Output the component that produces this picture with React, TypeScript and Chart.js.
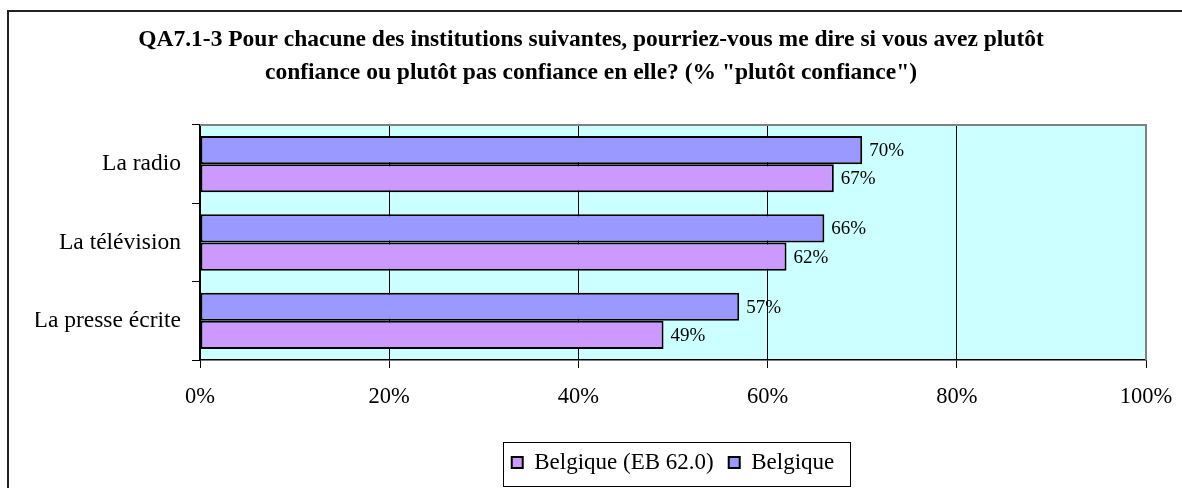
import React, { useEffect, useRef } from 'react';
import { Chart, registerables } from 'chart.js';

Chart.register(...registerables);

const categories = ['La radio', 'La télévision', 'La presse écrite'];
const seriesNames = ['Belgique', 'Belgique (EB 62.0)'];
const valuesBelgique = [70, 66, 57];
const valuesEB62 = [67, 62, 49];
const xTickValues = [0, 20, 40, 60, 80, 100];
const titleLines = [
  'QA7.1-3 Pour chacune des institutions suivantes, pourriez-vous me dire si vous avez plutôt',
  'confiance ou plutôt pas confiance en elle? (% "plutôt confiance")',
];

const FONT = "'Liberation Serif', 'Times New Roman', Times, serif";
const PLOT_BG = '#CCFFFF';
const BLUE = '#9999FF';
const PINK = '#CC99FF';

const decorPlugin = {
  id: 'decor',
  beforeDraw(chart: any) {
    const { ctx, chartArea } = chart;
    ctx.save();
    ctx.fillStyle = '#ffffff';
    ctx.fillRect(0, 0, chart.width, chart.height);
    // outer frame (right/bottom edges are cropped in the reference)
    ctx.strokeStyle = '#222';
    ctx.lineWidth = 2;
    ctx.strokeRect(8, 11, 1300, 600);
    // plot background
    ctx.fillStyle = PLOT_BG;
    ctx.fillRect(chartArea.left, chartArea.top, chartArea.right - chartArea.left, chartArea.bottom - chartArea.top);
    ctx.restore();
  },
  afterDatasetsDraw(chart: any) {
    const { ctx, chartArea } = chart;
    ctx.save();
    // grey plot frame top / right
    ctx.strokeStyle = '#808080';
    ctx.lineWidth = 2;
    ctx.beginPath();
    ctx.moveTo(chartArea.left, chartArea.top);
    ctx.lineTo(chartArea.right, chartArea.top);
    ctx.lineTo(chartArea.right, chartArea.bottom);
    ctx.stroke();
    // value labels
    ctx.fillStyle = '#000';
    ctx.font = `19px ${FONT}`;
    ctx.textAlign = 'left';
    ctx.textBaseline = 'middle';
    chart.data.datasets.forEach((ds: any, di: number) => {
      const meta = chart.getDatasetMeta(di);
      meta.data.forEach((el: any, i: number) => {
        ctx.fillText(`${ds.data[i]}%`, el.x + 7, el.y + 1);
      });
    });
    ctx.restore();
  },
  afterDraw(chart: any) {
    const legend = chart.legend;
    if (!legend || !legend.legendHitBoxes || !legend.legendHitBoxes.length) return;
    const boxes = legend.legendHitBoxes;
    const first = boxes[0];
    const last = boxes[boxes.length - 1];
    const left = first.left - 9;
    const right = last.left + last.width + 15;
    const cy = first.top + first.height / 2;
    const ctx = chart.ctx;
    ctx.save();
    ctx.strokeStyle = '#000';
    ctx.lineWidth = 1;
    ctx.strokeRect(Math.round(left) + 0.5, Math.round(cy - 21) + 0.5, Math.round(right - left), 44);
    ctx.restore();
  },
};

export default function App() {
  const ref = useRef<HTMLCanvasElement>(null);

  useEffect(() => {
    const canvas = ref.current;
    if (!canvas) return;
    const chart = new Chart(canvas, {
      type: 'bar',
      data: {
        labels: categories,
        datasets: [
          {
            label: seriesNames[0],
            data: valuesBelgique,
            backgroundColor: BLUE,
            borderColor: '#000',
            borderWidth: 2,
            borderSkipped: false,
          },
          {
            label: seriesNames[1],
            data: valuesEB62,
            backgroundColor: PINK,
            borderColor: '#000',
            borderWidth: 2,
            borderSkipped: false,
          },
        ],
      },
      options: {
        indexAxis: 'y',
        responsive: false,
        devicePixelRatio: 1,
        animation: false,
        events: [],
        categoryPercentage: 0.72,
        barPercentage: 1,
        layout: { padding: { top: 0, left: 36, right: 36, bottom: 4 } },
        scales: {
          x: {
            type: 'linear',
            min: 0,
            max: 100,
            afterBuildTicks: (scale: any) => {
              scale.ticks = xTickValues.map((v) => ({ value: v }));
            },
            afterFit: (scale: any) => {
              scale.height = 76;
              scale.paddingLeft = 0;
              scale.paddingRight = 0;
            },
            grid: { color: '#000', lineWidth: 1, tickLength: 8, drawTicks: true },
            border: { color: '#000', width: 1.5 },
            ticks: {
              color: '#000',
              font: { family: FONT, size: 22.5, lineHeight: 1.2 },
              padding: 16,
              maxRotation: 0,
              callback: (v: any) => `${v}%`,
            },
          },
          y: {
            type: 'category',
            afterFit: (scale: any) => {
              scale.width = 164;
              scale.paddingTop = 0;
              scale.paddingBottom = 0;
            },
            grid: { drawOnChartArea: false, drawTicks: true, tickLength: 8, color: '#000', offset: true },
            border: { color: '#000', width: 1.5 },
            ticks: { color: '#000', font: { family: FONT, size: 23.5 }, padding: 11 },
          },
        },
        plugins: {
          title: {
            display: true,
            text: titleLines,
            color: '#000',
            font: { family: FONT, size: 23.5, weight: 'bold', lineHeight: '33px' },
            padding: { top: 23.5, bottom: 35.5 },
          },
          legend: {
            display: true,
            position: 'bottom',
            fullSize: false,
            reverse: true,
            labels: {
              color: '#000',
              font: { family: FONT, size: 23 },
              boxWidth: 11,
              boxHeight: 11,
              padding: 15,
            },
          },
          tooltip: { enabled: false },
        },
      } as any,
      plugins: [decorPlugin],
    });
    return () => chart.destroy();
  }, []);

  return (
    <div style={{ position: 'fixed', left: 0, top: 0, width: 1182, height: 488, background: '#fff' }}>
      <canvas ref={ref} width={1182} height={488} style={{ display: 'block', width: 1182, height: 488 }} />
    </div>
  );
}
